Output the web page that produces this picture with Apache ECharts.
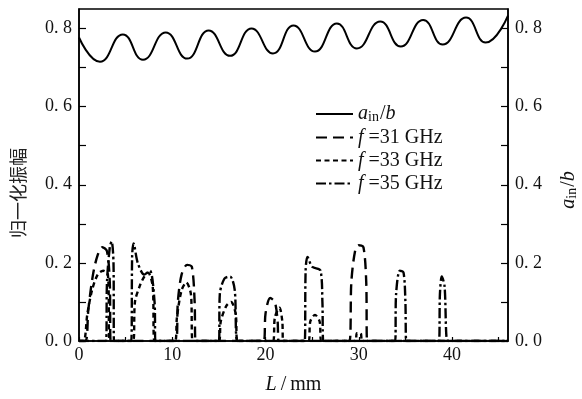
<!DOCTYPE html>
<html>
<head>
<meta charset="utf-8">
<script src="https://cdn.jsdelivr.net/npm/echarts@6/dist/echarts.min.js"></script>
<style>
  html, body { margin: 0; padding: 0; background: #fff; }
  #chart { width: 582px; height: 399px; }
</style>
</head>
<body>
<div id="chart"></div>
<script>
// a_in/b 曲线 (L/mm, 值) — 读取峰谷位置
const ainB = [
    [0, 0.777], [2.25, 0.715], [4.7, 0.785], [6.86, 0.72], [9.3, 0.79],
    [11.6, 0.723], [13.9, 0.795], [16.2, 0.73], [18.5, 0.8], [20.8, 0.736],
    [23.0, 0.808], [25.3, 0.741], [27.65, 0.813], [29.8, 0.749], [32.3, 0.818],
    [34.5, 0.754], [36.9, 0.822], [39.0, 0.759], [41.5, 0.828], [43.6, 0.764],
    [46, 0.833]
];

// f = 31 GHz
const f31 = [
    [0, 0], [0.7, 0], [1.0, 0.08], [1.5, 0.17], [2.0, 0.22], [2.5, 0.24], [3.0, 0.23], [3.3, 0.15], [3.4, 0],
    [10.4, 0], [10.6, 0.1], [11.0, 0.17], [11.6, 0.195], [12.1, 0.19], [12.4, 0.1], [12.5, 0],
    [19.8, 0], [20.0, 0.07], [20.5, 0.11], [21.0, 0.1], [21.3, 0.05], [21.4, 0],
    [29.0, 0], [29.2, 0.15], [29.6, 0.23], [30.0, 0.245], [30.5, 0.24], [30.8, 0.15], [30.9, 0],
    [46, 0]
];

// f = 33 GHz
const f33 = [
    [0, 0], [0.5, 0], [0.9, 0.07], [1.4, 0.13], [2.0, 0.17], [2.6, 0.18], [3.1, 0.17], [3.3, 0],
    [5.8, 0], [6.0, 0.1], [6.5, 0.14], [7.0, 0.165], [7.4, 0.175], [7.9, 0.14], [8.1, 0],
    [10.3, 0], [10.5, 0.06], [11.0, 0.13], [11.5, 0.15], [12.0, 0.12], [12.2, 0],
    [15.0, 0], [15.2, 0.05], [15.8, 0.09], [16.3, 0.1], [16.8, 0.07], [17.0, 0],
    [20.8, 0], [21.0, 0.06], [21.5, 0.085], [21.8, 0.05], [21.9, 0],
    [24.6, 0], [24.8, 0.05], [25.3, 0.067], [25.8, 0.05], [26.0, 0],
    [29.6, 0], [29.8, 0.02], [30.2, 0.02], [30.4, 0],
    [46, 0]
];

// f = 35 GHz
const f35 = [
    [0, 0], [2.9, 0], [3.0, 0.15], [3.3, 0.24], [3.5, 0.255], [3.7, 0.2], [3.75, 0],
    [5.6, 0], [5.7, 0.22], [5.85, 0.25], [6.3, 0.2], [7.0, 0.17], [7.6, 0.18], [8.1, 0.1], [8.2, 0],
    [15.0, 0], [15.1, 0.12], [15.6, 0.16], [16.2, 0.165], [16.7, 0.13], [17.0, 0],
    [24.2, 0], [24.3, 0.18], [24.5, 0.215], [25.0, 0.19], [25.9, 0.18], [26.1, 0.1], [26.2, 0],
    [33.9, 0], [34.0, 0.12], [34.4, 0.18], [34.8, 0.175], [35.0, 0.1], [35.1, 0],
    [38.6, 0], [38.7, 0.12], [38.9, 0.165], [39.2, 0.14], [39.4, 0.01], [39.6, 0],
    [46, 0]
];

const seriesNames = ['ain/b', 'f=31', 'f=33', 'f=35'];
const legendText = {
    'ain/b': '{i|a}{s|in}{n|/}{i|b}',
    'f=31': '{i|f}{n| =31 GHz}',
    'f=33': '{i|f}{n| =33 GHz}',
    'f=35': '{i|f}{n| =35 GHz}'
};

const SERIF = '"Liberation Serif", "DejaVu Serif", serif';
const makeRich = size => ({
    i: { fontFamily: SERIF, fontStyle: 'italic', fontSize: size, color: '#111' },
    n: { fontFamily: SERIF, fontSize: size, color: '#111' },
    s: { fontFamily: SERIF, fontSize: Math.round(size * 0.7), color: '#111', padding: [7, 1, 0, 0] }
});

const tickFmt = v => (Math.round(v * 10) % 2 === 0 ? v.toFixed(1).replace('.', '. ') : '');

const yAxisBase = {
    type: 'value',
    min: 0,
    max: 0.85,
    interval: 0.1,
    axisLine: { show: true, lineStyle: { color: '#000', width: 1.5 } },
    axisTick: { show: true, inside: true, length: 7, lineStyle: { color: '#000', width: 1.2 } },
    axisLabel: {
        formatter: tickFmt, showMaxLabel: false, margin: 7,
        fontFamily: SERIF, fontSize: 18, color: '#111'
    },
    splitLine: { show: false }
};

const chart = echarts.init(document.getElementById('chart'), null, { renderer: 'canvas' });
chart.setOption({
    animation: false,
    backgroundColor: '#fff',
    color: ['#000'],
    grid: {
        left: 79, right: 74, top: 9, bottom: 58,
        containLabel: false,
        outerBoundsMode: 'none',
        show: true, borderColor: '#000', borderWidth: 1.5
    },
    legend: {
        orient: 'vertical',
        left: 315,
        top: 104,
        padding: 0,
        itemWidth: 37,
        itemHeight: 14,
        itemGap: 3,
        data: seriesNames,
        itemStyle: { opacity: 0 },
        formatter: name => legendText[name],
        textStyle: { rich: makeRich(20) }
    },
    xAxis: {
        type: 'value',
        min: 0,
        max: 46,
        interval: 5,
        name: '{i|L}{n|\u2009/\u2009mm}',
        nameLocation: 'middle',
        nameGap: 34,
        nameTextStyle: { rich: makeRich(20) },
        axisLine: { lineStyle: { color: '#000', width: 1.5 } },
        axisTick: { inside: true, length: 4, lineStyle: { color: '#000', width: 1.2 } },
        axisLabel: {
            formatter: v => (v % 10 === 0 ? String(v) : ''),
            showMaxLabel: false, margin: 5,
            fontFamily: SERIF, fontSize: 18, color: '#111'
        },
        splitLine: { show: false }
    },
    yAxis: [
        Object.assign({}, yAxisBase, {
            position: 'left',
            name: '归一化振幅',
            nameLocation: 'middle',
            nameGap: 52,
            nameTextStyle: {
                fontFamily: '"Noto Sans CJK SC", sans-serif', fontSize: 18, color: '#222',
                padding: [0, 36, 0, 0]
            }
        }),
        Object.assign({}, yAxisBase, {
            position: 'right',
            name: '{i|a}{s|in}{n|/}{i|b}',
            nameLocation: 'middle',
            nameGap: 50,
            nameTextStyle: { rich: makeRich(20), padding: [0, 30, 0, 0] }
        })
    ],
    series: [
        {
            name: 'ain/b', type: 'line', yAxisIndex: 1, data: ainB,
            smooth: 0.5, symbol: 'none',
            lineStyle: { color: '#000', width: 2 }
        },
        {
            name: 'f=31', type: 'line', data: f31,
            smooth: 0.3, symbol: 'none',
            lineStyle: { color: '#000', width: 2.4, type: [11, 6] }
        },
        {
            name: 'f=33', type: 'line', data: f33,
            smooth: 0.3, symbol: 'none',
            lineStyle: { color: '#000', width: 2.4, type: [5, 3.5] }
        },
        {
            name: 'f=35', type: 'line', data: f35,
            smooth: 0.3, symbol: 'none',
            lineStyle: { color: '#000', width: 2.4, type: [10, 3, 2.5, 3] }
        }
    ]
});
</script>
</body>
</html>
